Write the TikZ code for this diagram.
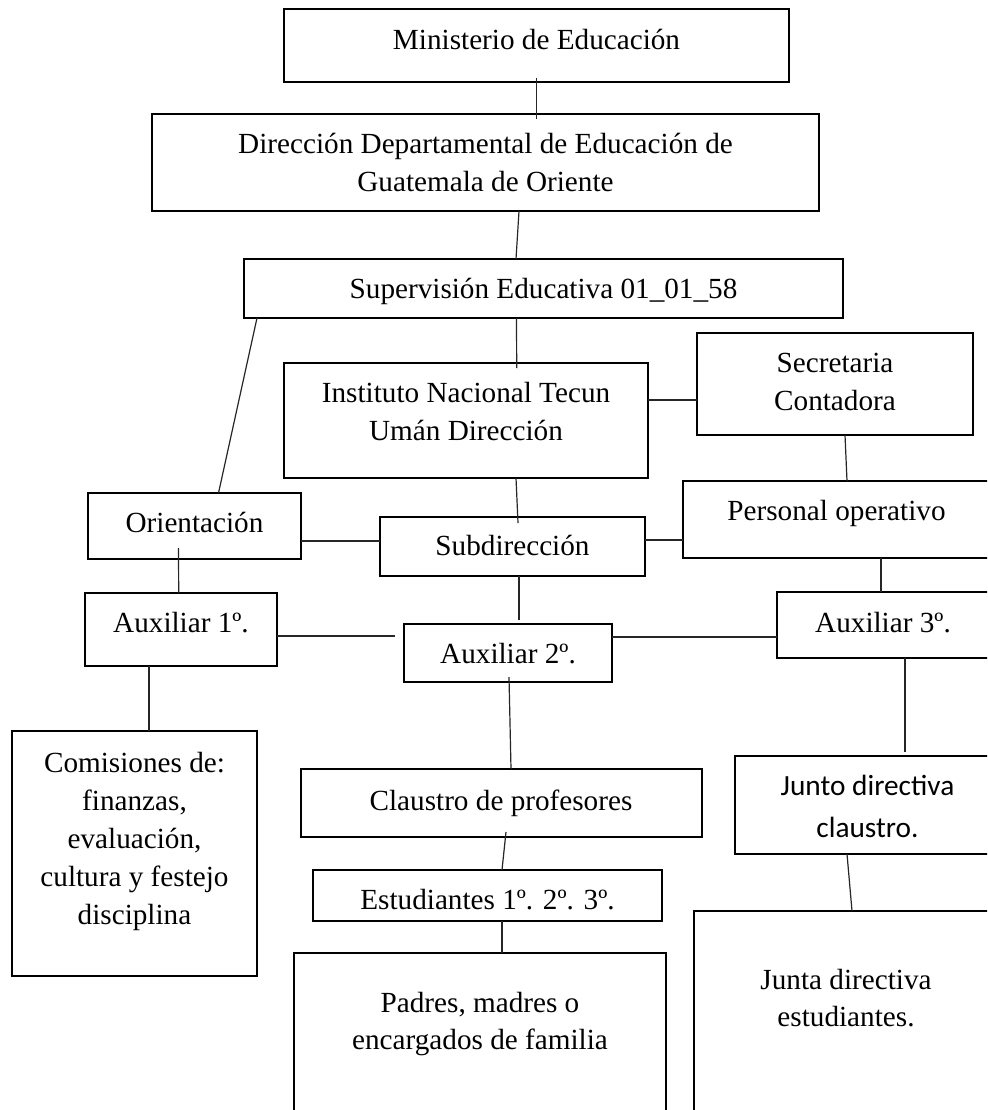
\documentclass[tikz,border=0pt]{standalone}
\usepackage{fontspec}
\setmainfont{Liberation Serif}
\newfontfamily\calibrifont{Carlito}
\begin{document}
\begin{tikzpicture}[x=1pt,y=-1pt,
  box/.style={draw=black, line width=2.5pt, inner sep=0pt, outer sep=0pt},
  txt/.style={anchor=base, inner sep=0pt, font=\fontsize{29.2}{38}\selectfont},
  stxt/.style={anchor=base, inner sep=0pt, font=\calibrifont\fontsize{29.3}{40}\selectfont},
  conn/.style={draw=black!85, line width=1.2pt}]
\useasboundingbox (0,0) rectangle (987,1110);
\clip (0,0) rectangle (987,1110);
\fill[white] (0,0) rectangle (987,1110);
% boxes
\node[box, minimum width=505pt, minimum height=73pt]  (min)  at (536.5,45.5)  {};
\node[box, minimum width=667pt, minimum height=97pt]  (dir)  at (485.5,162.5) {};
\node[box, minimum width=599pt, minimum height=59pt]  (sup)  at (543.5,288.5) {};
\node[box, minimum width=364pt, minimum height=115pt] (ins)  at (466,420.5)   {};
\node[box, minimum width=276pt, minimum height=102pt] (sec)  at (835,384)     {};
\node[box, minimum width=213pt, minimum height=66pt]  (ori)  at (194.5,526)   {};
\node[box, minimum width=265pt, minimum height=59pt]  (sub)  at (512.5,546.5) {};
\node[box, minimum width=312pt, minimum height=77pt]  (per)  at (839,519.5)   {};
\node[box, minimum width=192pt, minimum height=73pt]  (aux1) at (181,629.5)   {};
\node[box, minimum width=208pt, minimum height=58pt]  (aux2) at (508,653)     {};
\node[box, minimum width=218pt, minimum height=66pt]  (aux3) at (886,625)     {};
\node[box, minimum width=245pt, minimum height=245pt] (com)  at (134.5,853.5) {};
\node[box, minimum width=401pt, minimum height=68pt]  (cla)  at (501.5,803)   {};
\node[box, minimum width=349pt, minimum height=51pt]  (est)  at (487.5,895.5) {};
\node[box, minimum width=372pt, minimum height=167pt] (pad)  at (480,1036.5)  {};
\node[box, minimum width=260pt, minimum height=98pt]  (jun)  at (865,805)     {};
\node[box, minimum width=301pt, minimum height=209pt] (jes)  at (844.5,1015.5){};
% texts
\node[txt] (tmin)  at (536.5,49.5) {Ministerio de Educación};
\node[txt] (tdir1) at (485.5,154) {Dirección Departamental de Educación de};
\node[txt] (tdir2) at (485.5,192) {Guatemala de Oriente};
\node[txt] (tsup)  at (543.5,298) {Supervisión Educativa 01\_01\_58};
\node[txt] (tins1) at (466,402) {Instituto Nacional Tecun};
\node[txt] (tins2) at (466,440) {Umán Dirección};
\node[txt] (tsec1) at (835,372) {Secretaria};
\node[txt] (tsec2) at (835,410) {Contadora};
\node[txt] (tori)  at (194.5,532) {Orientación};
\node[txt] (tsub)  at (512.5,555) {Subdirección};
\node[txt] (tper)  at (836.5,520) {Personal operativo};
\node[txt] (taux1) at (181,632) {Auxiliar 1º.};
\node[txt] (taux2) at (508,663) {Auxiliar 2º.};
\node[txt] (taux3) at (883,632) {Auxiliar 3º.};
\node[txt] (tcom1) at (134.5,772) {Comisiones de:};
\node[txt] (tcom2) at (134.5,810) {finanzas,};
\node[txt] (tcom3) at (134.5,848) {evaluación,};
\node[txt] (tcom4) at (134.5,886) {cultura y festejo};
\node[txt] (tcom5) at (134.5,924) {disciplina};
\node[txt] (tcla)  at (501,810) {Claustro de profesores};
\node[txt] (test)  at (487.5,909) {Estudiantes 1º. 2º. 3º.};
\node[txt] (tpad1) at (480,1012) {Padres, madres o};
\node[txt] (tpad2) at (480,1049) {encargados de familia};
\node[stxt] (tjun1) at (867.5,795) {Junto directiva};
\node[stxt] (tjun2) at (867.5,837) {claustro.};
\node[txt] (tjes1) at (846,989) {Junta directiva};
\node[txt] (tjes2) at (846,1026) {estudiantes.};
% connectors
\draw[conn] ([yshift=4pt]min.south) -- ([xshift=51pt,yshift=-5pt]dir.north);
\draw[conn] ([xshift=33.5pt]dir.south) -- ([xshift=-27.5pt]sup.north);
\draw[conn] ([xshift=-27pt]sup.south) -- ([xshift=50.7pt,yshift=-5pt]ins.north);
\draw[conn] ([xshift=13pt]sup.south west) -- ([xshift=24pt]ori.north);
\draw[conn] ([yshift=20.5pt]ins.east) -- ([yshift=-16pt]sec.west);
\draw[conn] ([xshift=10pt]sec.south) -- ([xshift=8pt]per.north);
\draw[conn] ([xshift=50pt]ins.south) -- ([xshift=5.5pt,yshift=-6pt]sub.north);
\draw[conn] ([yshift=-15pt]ori.east) -- ([yshift=5.5pt]sub.west);
\draw[conn] ([yshift=6.5pt]sub.east) -- ([yshift=-20.5pt]per.west);
\draw[conn] ([xshift=-16pt,yshift=11pt]ori.south) -- ([xshift=-2.3pt]aux1.north);
\draw[conn] ([yshift=-6.5pt]aux1.east) -- ([xshift=-9pt,yshift=17pt]aux2.west);
\draw[conn] ([xshift=6.5pt]sub.south) -- ([xshift=11pt,yshift=4pt]aux2.north);
\draw[conn] ([yshift=16pt]aux2.east) -- ([yshift=-12pt]aux3.west);
\draw[conn] ([xshift=42pt]per.south) -- ([xshift=-5pt]aux3.north);
\draw[conn] ([xshift=19pt]aux3.south) -- ([xshift=40pt,yshift=4pt]jun.north);
\draw[conn] ([xshift=-18pt]jun.south) -- ([xshift=7.5pt]jes.north);
\draw[conn] ([xshift=-32pt]aux1.south) -- ([xshift=14.5pt]com.north);
\draw[conn] ([xshift=1pt,yshift=5pt]aux2.south) -- ([xshift=9.5pt]cla.north);
\draw[conn] ([xshift=4.5pt,yshift=5pt]cla.south) -- ([xshift=14.5pt]est.north);
\draw[conn] ([xshift=14.5pt]est.south) -- ([xshift=22pt]pad.north);
\end{tikzpicture}
\end{document}
